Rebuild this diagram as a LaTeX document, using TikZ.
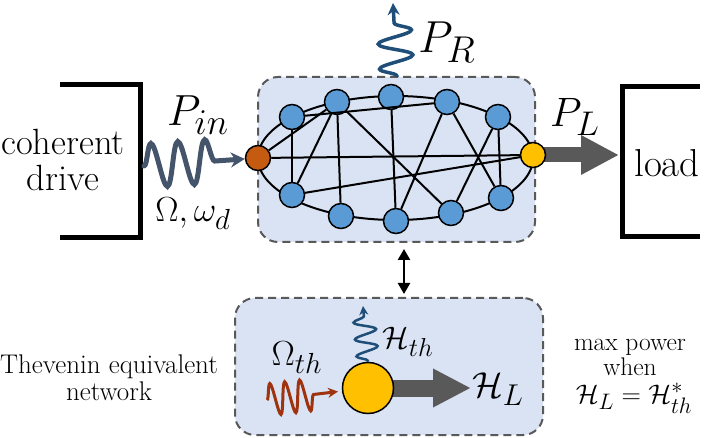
\documentclass[tikz,border=0pt]{standalone}
\usepackage{amsmath}
\usetikzlibrary{arrows.meta,decorations.pathmorphing}
\definecolor{boxfill}{HTML}{DAE3F3}
\definecolor{boxline}{HTML}{595959}
\definecolor{nodeblue}{HTML}{5B9BD5}
\definecolor{nodeorange}{HTML}{C55A11}
\definecolor{nodeyellow}{HTML}{FFC000}
\definecolor{arrowgray}{HTML}{595959}
\definecolor{wavein}{HTML}{44546A}
\definecolor{waveblue}{HTML}{1F4E79}
\definecolor{wavered}{HTML}{A0330F}
\pgfdeclarelayer{back}
\pgfdeclarelayer{mid}
\pgfsetlayers{back,mid,main}
\begin{document}
\begin{tikzpicture}[x=1pt,y=-1pt,
  dbox/.style={draw=boxline, fill=boxfill, line width=2pt, dash pattern=on 8pt off 5pt, rounded corners=20pt, inner sep=0pt},
  bnode/.style={circle, draw=black, line width=1.5pt, fill=nodeblue, minimum size=25pt, inner sep=0pt},
  onode/.style={bnode, fill=nodeorange},
  ynode/.style={bnode, fill=nodeyellow},
  link/.style={draw=black, line width=2pt},
  bracket/.style={draw=black, line width=5pt},
  bigarrow/.style={draw=arrowgray, line width=15pt, -{Triangle[length=38pt,width=37pt]}},
  lab/.style={font=\Huge, inner sep=0pt},
  txt/.style={inner sep=0pt, align=center}
]
\useasboundingbox (0,0) rectangle (707,438);

\begin{pgfonlayer}{back}
\node[dbox, minimum width=277pt, minimum height=165pt] (net) at (396.5,159.5) {};
\node[dbox, minimum width=308pt, minimum height=137pt] (thev) at (389,366.5) {};
\end{pgfonlayer}

% network nodes
\node[onode] (O) at (258,158) {};
\node[ynode] (Y) at (533,155) {};
\node[bnode] (A) at (292,117) {};
\node[bnode] (B) at (337,102) {};
\node[bnode] (C) at (391,97) {};
\node[bnode] (D) at (447,102) {};
\node[bnode] (E) at (498,117) {};
\node[bnode] (F) at (292,195) {};
\node[bnode] (G) at (341,216) {};
\node[bnode] (H) at (396,221) {};
\node[bnode] (I) at (451,213) {};
\node[bnode] (J) at (501,198) {};

\coordinate (ringc) at (395.5,158);
\begin{pgfonlayer}{mid}
\draw[link] (ringc) ellipse [x radius=137.5pt, y radius=62pt];
\end{pgfonlayer}
\draw[link] (O) -- (Y);
\draw[link] (O) -- (B);
\draw[link] (A) -- (D);
\draw[link] (A) -- (F);
\draw[link] (B) -- (F);
\draw[link] (B) -- (G);
\draw[link] (B) -- (I);
\draw[link] (C) -- (H);
\draw[link] (D) -- (H);
\draw[link] (D) -- (J);
\draw[link] (E) -- (I);
\draw[link] (E) -- (J);
\draw[link] (F) -- (Y);

% coherent drive bracket
\draw[bracket] (60,85) -- (140,85) -- (140,238) -- (60,238);
\node[txt, font=\fontsize{36.5}{36}\selectfont] (drive) at (63,160) {coherent\\drive};
% load bracket
\draw[bracket] (700,87) -- (622,87) -- (622,237) -- (700,237);
\node[txt, font=\fontsize{39}{40}\selectfont] (load) at (667,163) {load};

% input wave
\coordinate (win) at (144,166);
\draw[draw=wavein, line width=5pt, line cap=round, decorate,
  decoration={snake, amplitude=22pt, segment length=27pt, post length=20pt},
  -{Stealth[length=14pt,width=15pt]}] (win) -- (O);
\node[lab, scale=1.75] (Pin) at (198,115) {$P_{in}$};
\node[lab, scale=1.4] (Om) at (193,214) {$\Omega,\omega_d$};

% radiated wave
\coordinate (prbot) at (397,77);
\coordinate (prtop) at (393,3);
\draw[draw=waveblue, line width=3.5pt, decorate,
  decoration={snake, amplitude=17pt, segment length=25pt, pre length=1pt, post length=10pt},
  -{Stealth[length=12pt,width=12pt]}] (prbot) -- (prtop);
\node[lab, scale=1.8] (PR) at (447,42) {$P_R$};

% output arrow
\coordinate (loadtip) at (619,155);
\begin{pgfonlayer}{mid}
\draw[bigarrow] (Y.center) -- (loadtip);
\end{pgfonlayer}
\node[lab, scale=1.65] (PL) at (575,117) {$P_L$};

% coupling arrow
\coordinate (ax) at (404,0);
\draw[line width=2.5pt, {Triangle[length=11pt,width=12pt]}-{Triangle[length=11pt,width=12pt]},
  shorten <=6pt, shorten >=3pt] (ax |- net.south) -- (ax |- thev.north);

% Thevenin equivalent
\node[ynode, minimum size=51pt] (T) at (368,388) {};
\coordinate (thtip) at (471,388);
\begin{pgfonlayer}{mid}
\draw[draw=arrowgray, line width=17pt, -{Triangle[length=38pt,width=36pt]}] (T.center) -- (thtip);
\end{pgfonlayer}
\node[lab, scale=1.45] (HL) at (498,389) {$\mathcal{H}_L$};

\coordinate (thtop) at (363,306);
\draw[draw=waveblue, line width=2.5pt, decorate,
  decoration={snake, amplitude=11pt, segment length=17pt, pre length=1pt, post length=7pt},
  -{Stealth[length=9pt,width=9pt]}] (T.north) -- (thtop);
\node[lab, scale=1.25] (Hth) at (408,342) {$\mathcal{H}_{th}$};

\coordinate (rin) at (267,400);
\draw[draw=wavered, line width=3pt, decorate,
  decoration={snake, amplitude=16pt, segment length=15pt, post length=24pt},
  -{Stealth[length=10pt,width=10pt]}, shorten >=4pt] (rin) -- (T);
\node[lab, scale=1.4] (Omth) at (297,358) {$\Omega_{th}$};

\node[txt, font=\fontsize{27}{27}\selectfont] (thevtxt) at (109,378) {Thevenin equivalent\\network};
\node[txt, font=\fontsize{25.5}{25}\selectfont] (maxp) at (630,357) {max power\\when};
\node[lab, scale=1.08] (cond) at (634,398) {$\mathcal{H}_L=\mathcal{H}_{th}^{*}$};
\end{tikzpicture}
\end{document}
